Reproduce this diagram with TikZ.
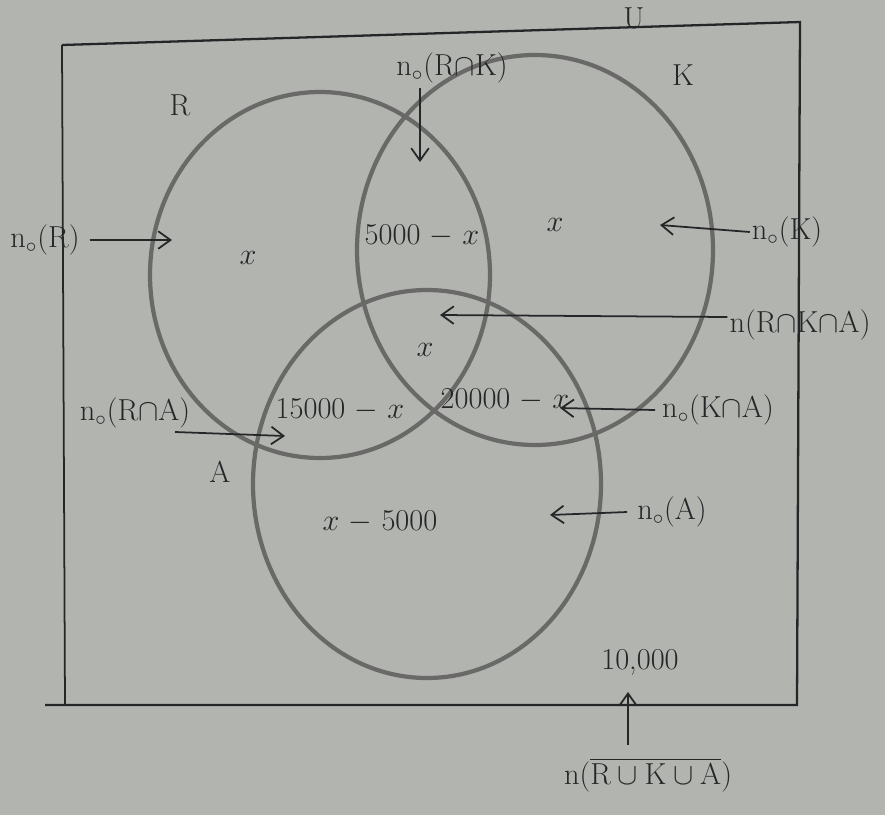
\documentclass[tikz,border=0pt]{standalone}
\usepackage{amsmath,amssymb}
\usetikzlibrary{arrows.meta,positioning}
\definecolor{paper}{RGB}{178,180,176}
\definecolor{ink}{RGB}{38,38,40}
\definecolor{pencil}{RGB}{105,106,104}

\begin{document}
\begin{tikzpicture}[x=0.02cm,y=-0.02cm,>={Straight Barb[length=7pt,width=10pt]},
  every node/.style={font=\LARGE,text=ink,inner sep=1pt},
  set/.style={draw=pencil,line width=2.4pt},
  pointer/.style={->,draw=ink,line width=1pt}]
\fill[paper] (0,0) rectangle (885,815);
\useasboundingbox (0,0) rectangle (885,815);
% universe box
\draw[ink,line width=1.3pt] (62,45) -- (800,22) -- (797,705) -- (45,705);
\draw[ink,line width=1pt] (62,45) -- (65,705);
\node (U) at (634,18) {U};
% circles
\draw[set] (320,275) ellipse [x radius=170,y radius=183];
\draw[set] (535,250) ellipse [x radius=178,y radius=195];
\draw[set] (427,484) ellipse [x radius=174,y radius=194];
\node (R) at (180,105) {R};
\node (K) at (683,75) {K};
\node (A) at (220,472) {A};
% region values
\node (xR) at (248,258) {$x$};
\node (vRK) at (422,236) {5000 $-$ $x$};
\node (xK) at (555,225) {$x$};
\node (xRKA) at (425,350) {$x$};
\node (vRA) at (340,410) {15000 $-$ $x$};
\node (vKA) at (505,400) {20000 $-$ $x$};
\node (vA) at (380,522) {$x$ $-$ 5000};
\node (vN) at (640,662) {10,000};
% labels outside
\node (nRK) at (452,68) {n$_\circ$(R$\cap$K)};
\node (nR) at (45,240) {n$_\circ$(R)};
\node (nK) at (787,232) {n$_\circ$(K)};
\node (nRKA) at (800,325) {n(R$\cap$K$\cap$A)};
\node (nRA) at (135,413) {n$_\circ$(R$\cap$A)};
\node (nKA) at (718,410) {n$_\circ$(K$\cap$A)};
\node (nA) at (672,512) {n$_\circ$(A)};
\node (nN) at (648,775) {n($\overline{\text{R}\cup\text{K}\cup\text{A}}$)};
% pointers
\coordinate (sRK) at (420,88);
\coordinate (pRK) at (420,162);
\coordinate (pR) at (172,240);
\coordinate (pK) at (660,225);
\coordinate (pRKA) at (440,315);
\coordinate (sRA) at (175,432);
\coordinate (pRA) at (285,436);
\coordinate (pKA) at (560,408);
\coordinate (pA) at (550,515);
\coordinate (sN) at (628,745);
\coordinate (pN) at (628,692);
\draw[pointer] (sRK) -- (pRK);
\draw[pointer] (nR.east) ++(8,0) -- (pR);
\draw[pointer] (nK.west) -- (pK);
\draw[pointer] (nRKA.west) ++(0,-8) -- (pRKA);
\draw[pointer] (sRA) -- (pRA);
\draw[pointer] (nKA.west) ++(-5,0) -- (pKA);
\draw[pointer] (nA.west) ++(-8,0) -- (pA);
\draw[pointer] (sN) -- (pN);
\end{tikzpicture}
\end{document}
